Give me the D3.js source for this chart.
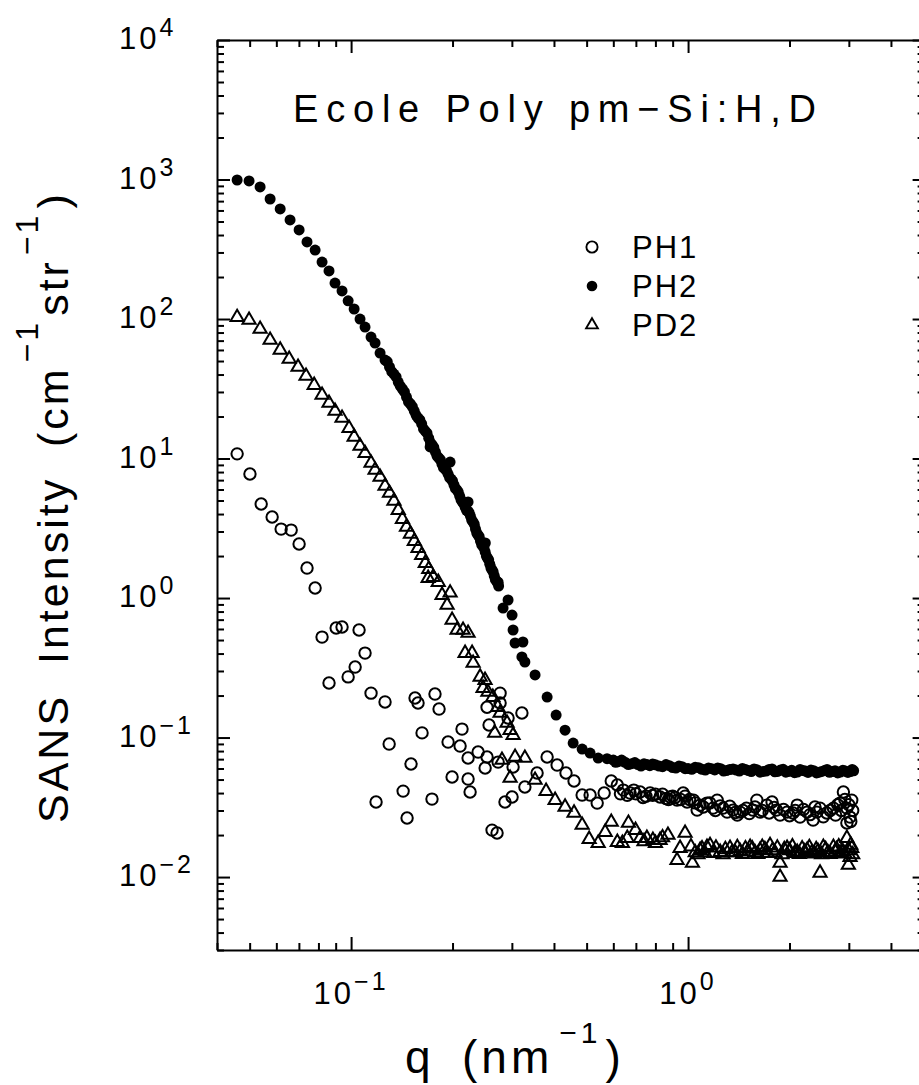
<!DOCTYPE html>
<html>
<head>
<meta charset="utf-8">
<script src="https://cdn.jsdelivr.net/npm/d3@7"></script>
<style>
    body { margin: 0; background: #fff; }
    svg { display: block; font-family: "Liberation Sans", Arial, sans-serif; }
</style>
</head>
<body>
<svg id="chart" width="919" height="1085"></svg>
<script>
// q (nm^-1), intensity (cm^-1 str^-1)
var ph1 = [
    [0.0459,10.8],[0.0501,7.74],[0.0541,4.72],[0.0583,3.81],[0.0620,3.12],[0.0664,3.07],[0.0701,2.44],
    [0.0740,1.64],[0.0782,1.18],[0.0820,0.525],[0.0903,0.610],[0.0940,0.620],[0.1056,0.590],[0.110,0.403],
    [0.1028,0.320],[0.098,0.272],[0.0860,0.246],[0.1146,0.208],[0.1261,0.180],[0.1548,0.192],[0.1580,0.177],
    [0.1774,0.205],[0.1824,0.160],[0.1624,0.108],[0.1297,0.0898],[0.1940,0.0928],[0.1506,0.0646],[0.1427,0.0413],
    [0.1186,0.0345],[0.1738,0.0362],[0.1466,0.0265],[0.1994,0.0521],[0.2134,0.115],[0.2106,0.0869],[0.2224,0.0713],
    [0.2382,0.0787],[0.2532,0.0725],[0.2499,0.0605],[0.2731,0.0667],[0.2224,0.0504],[0.2255,0.0407],[0.2768,0.208],
    [0.2768,0.177],[0.2923,0.138],[0.2567,0.123],[0.3213,0.150],[0.2532,0.165],[0.3025,0.0615],[0.3279,0.0442],
    [0.3564,0.0557],[0.2862,0.0345],[0.3004,0.0375],[0.2620,0.0217],[0.2711,0.0207],[0.3817,0.0725],[0.4087,0.0635],
    [0.4343,0.0557],[0.4588,0.0488],[0.4849,0.0387],[0.5120,0.0387],[0.5374,0.0339],[0.5636,0.0400],[0.5916,0.0488],
    [0.6167,0.0457],[0.63,0.0395],[0.6427,0.0420],[0.66,0.0385],[0.6729,0.0400],[0.69,0.0420],[0.70,0.0395],
    [0.7205,0.0407],[0.735,0.0372],[0.75,0.0380],[0.7714,0.0400],[0.785,0.0385],[0.80,0.0392],[0.8259,0.0375],
    [0.84,0.0392],[0.86,0.0365],[0.875,0.0360],[0.8843,0.0375],[0.90,0.0380],[0.915,0.0372],[0.9273,0.0356],
    [0.95,0.0360],[0.9670,0.0400],[0.98,0.0380],[0.9932,0.0345],[1.01,0.0360],[1.038,0.0356],[1.05,0.0340],
    [1.064,0.0302],[1.086,0.0328],[1.11,0.0318],[1.138,0.0339],[1.16,0.0340],[1.186,0.0312],[1.205,0.0300],
    [1.22,0.0356],[1.245,0.0324],[1.27,0.0312],[1.306,0.0292],[1.33,0.0322],[1.36,0.0302],[1.38,0.0290],
    [1.40,0.0278],[1.427,0.0292],[1.455,0.0300],[1.49,0.0312],[1.52,0.0285],[1.556,0.0302],[1.58,0.0318],
    [1.60,0.0356],[1.635,0.0292],[1.66,0.0300],[1.713,0.0328],[1.74,0.0288],[1.775,0.0345],[1.80,0.0315],
    [1.83,0.0302],[1.875,0.0278],[1.92,0.0305],[1.967,0.0292],[2.00,0.0275],[2.048,0.0288],[2.08,0.0300],
    [2.108,0.0328],[2.149,0.0269],[2.20,0.0305],[2.256,0.0292],[2.30,0.0280],[2.35,0.0256],[2.38,0.0318],
    [2.41,0.0292],[2.464,0.0312],[2.52,0.0270],[2.58,0.0288],[2.64,0.0300],[2.70,0.0312],[2.74,0.0278],
    [2.78,0.0330],[2.825,0.0339],[2.85,0.0300],[2.89,0.0407],[2.92,0.0360],[2.96,0.0312],[3.00,0.0330],
    [3.025,0.0269],[2.96,0.0244],[3.04,0.0250],[3.06,0.0356],[3.08,0.0300]
];

var ph2 = [
    [0.0459,992],[0.0498,976],[0.0537,884],[0.0575,725],[0.0616,615],[0.0659,513],[0.0701,435],[0.0740,357],
    [0.0782,312],[0.0820,256],[0.0860,221],[0.0896,181],[0.0940,159],[0.0980,135],[0.1021,118],[0.1063,100],
    [0.110,87.6],[0.1146,74.3],[0.1178,67.3],[0.1219,57.0],[0.1261,50.8],[0.128,49.5],[0.130,45.3],[0.132,42.0],
    [0.134,40.3],[0.136,38.5],[0.138,35.3],[0.140,33.0],[0.142,31.5],[0.144,30.0],[0.146,27.6],[0.148,25.5],
    [0.150,24.6],[0.152,23.5],[0.154,21.9],[0.156,20.4],[0.158,19.5],[0.160,18.9],[0.162,17.7],[0.164,16.3],
    [0.166,15.7],[0.168,15.2],[0.170,14.0],[0.172,13.0],[0.174,12.5],[0.176,12.0],[0.178,11.1],[0.180,10.4],
    [0.182,10.1],[0.184,9.8],[0.186,9.13],[0.188,8.6],[0.190,8.41],[0.192,8.2],[0.194,7.74],[0.196,7.3],
    [0.198,7.13],[0.200,6.9],[0.202,6.46],[0.204,6.1],[0.206,5.95],[0.208,5.75],[0.210,5.38],[0.212,5.05],
    [0.214,4.88],[0.216,4.75],[0.218,4.49],[0.220,4.25],[0.222,4.20],[0.224,4.10],[0.226,3.87],[0.228,3.62],
    [0.230,3.51],[0.232,3.38],[0.234,3.12],[0.236,2.92],[0.238,2.83],[0.240,2.75],[0.242,2.56],[0.244,2.42],
    [0.246,2.36],[0.248,2.28],[0.250,2.14],[0.252,2.00],[0.254,1.93],[0.256,1.88],[0.258,1.75],[0.260,1.64],
    [0.262,1.59],[0.264,1.54],[0.266,1.44],[0.268,1.36],[0.270,1.32],[0.272,1.29],[0.274,1.22],
    [0.1716,12.1],[0.1967,9.44],[0.2224,4.88],[0.2502,2.48],[0.2731,1.30],
    [0.2825,0.848],[0.2923,0.968],[0.3004,0.755],[0.3025,0.590],[0.3066,0.476],[0.3235,0.484],[0.3213,0.378],
    [0.3279,0.348],[0.3515,0.281],[0.3817,0.195],[0.4059,0.145],[0.4315,0.113],[0.456,0.0913],[0.4849,0.0827],
    [0.512,0.0774],[0.541,0.0713],[0.575,0.0705],
    [0.60,0.0690],[0.61,0.0665],[0.62,0.0672],[0.635,0.0690],[0.65,0.0665],[0.665,0.0640],[0.68,0.0650],
    [0.695,0.0662],[0.71,0.0640],[0.725,0.0625],[0.74,0.0648],[0.755,0.0640],[0.77,0.0628],[0.785,0.0645],
    [0.80,0.0638],[0.82,0.0625],[0.84,0.0618],[0.86,0.0640],[0.88,0.0628],[0.90,0.0610],[0.92,0.0605],
    [0.94,0.0625],[0.96,0.0618],[0.98,0.0598],[1.00,0.0600],[1.025,0.0592],[1.05,0.0612],[1.075,0.0608],
    [1.10,0.0592],[1.125,0.0585],[1.15,0.0605],[1.175,0.0598],[1.20,0.0586],[1.225,0.0605],[1.25,0.0598],
    [1.275,0.0575],[1.30,0.0580],[1.33,0.0590],[1.36,0.0595],[1.39,0.0585],[1.42,0.0575],[1.45,0.0600],
    [1.48,0.0590],[1.51,0.0580],[1.54,0.0570],[1.57,0.0595],[1.60,0.0588],[1.635,0.0565],[1.67,0.0572],
    [1.705,0.0575],[1.74,0.0590],[1.775,0.0595],[1.81,0.0568],[1.845,0.0572],[1.88,0.0585],[1.915,0.0592],
    [1.95,0.0565],[1.99,0.0572],[2.03,0.0582],[2.07,0.0560],[2.11,0.0566],[2.15,0.0590],[2.19,0.0580],
    [2.23,0.0575],[2.27,0.0562],[2.315,0.0585],[2.36,0.0578],[2.405,0.0558],[2.45,0.0565],[2.495,0.0572],
    [2.54,0.0580],[2.585,0.0590],[2.63,0.0563],[2.68,0.0570],[2.73,0.0578],[2.78,0.0558],[2.83,0.0566],
    [2.88,0.0582],[2.93,0.0575],[2.98,0.0562],[3.03,0.0570],[3.07,0.0590],[3.10,0.0578]
];

var pd2 = [
    [0.0459,103],[0.0498,98.4],[0.0537,84.8],[0.0575,70.7],[0.0616,60.0],[0.0655,51.7],[0.0696,45.3],
    [0.0735,39.0],[0.0777,33.6],[0.0820,28.5],[0.0860,25.0],[0.0896,21.9],[0.0940,19.5],[0.0986,16.5],
    [0.1021,14.3],[0.1063,12.3],[0.110,10.9],[0.1146,9.28],[0.1178,8.27],[0.1219,7.37],[0.1261,6.35],
    [0.130,5.66],[0.134,4.96],[0.138,4.27],[0.142,3.68],[0.146,3.23],[0.150,2.88],[0.154,2.56],[0.158,2.28],
    [0.162,2.03],[0.166,1.78],[0.170,1.61],
    [0.1693,1.39],[0.1752,1.41],[0.1814,1.30],[0.1862,1.05],[0.1967,1.09],[0.1927,0.891],[0.1994,0.696],
    [0.2063,0.590],[0.2149,0.590],[0.2224,0.561],[0.2179,0.403],[0.2286,0.403],[0.2302,0.342],[0.2415,0.272],
    [0.2497,0.258],[0.2464,0.226],[0.2547,0.212],[0.2634,0.195],[0.2725,0.165],[0.2768,0.150],[0.2903,0.127],
    [0.2964,0.113],[0.3025,0.104],[0.2668,0.108],[0.2804,0.0690],[0.3066,0.0725],[0.3279,0.0713],[0.2964,0.0513],
    [0.3515,0.0496],[0.3790,0.0413],[0.4031,0.0356],[0.4315,0.0318],[0.4588,0.0288],[0.4849,0.0236],
    [0.5087,0.0187],[0.5410,0.0175],[0.5675,0.0210],[0.5916,0.0248],[0.6167,0.0178],[0.6383,0.0175],
    [0.6654,0.0244],[0.66,0.0190],[0.6984,0.0217],[0.7205,0.0190],[0.74,0.0180],[0.7547,0.0190],[0.7863,0.0184],
    [0.80,0.0175],[0.8259,0.0184],[0.84,0.0192],[0.8716,0.0200],[0.9273,0.0132],
    [0.9469,0.0161],[0.9797,0.0207],[1.02,0.0165],[1.030,0.0126],[1.05,0.0150],[1.07,0.0145],[1.086,0.0156],
    [1.10,0.0160],[1.12,0.0150],[1.138,0.0164],[1.162,0.0169],[1.19,0.0148],[1.21,0.0162],[1.245,0.0151],
    [1.27,0.0145],[1.29,0.0158],[1.332,0.0161],[1.35,0.0150],[1.38,0.0150],[1.40,0.0163],[1.427,0.0153],
    [1.45,0.0146],[1.48,0.0160],[1.51,0.0152],[1.528,0.0164],[1.55,0.0160],[1.58,0.0150],[1.61,0.0146],
    [1.635,0.0156],[1.66,0.0164],[1.69,0.0158],[1.72,0.0148],[1.751,0.0169],[1.78,0.0155],[1.81,0.0150],
    [1.84,0.0162],[1.875,0.0126],[1.875,0.0100],[1.90,0.0145],[1.93,0.0158],[1.967,0.0161],[2.00,0.0155],
    [2.04,0.0165],[2.07,0.0148],[2.108,0.0151],[2.14,0.0146],[2.18,0.0160],[2.22,0.0152],[2.256,0.0156],
    [2.29,0.0163],[2.33,0.0150],[2.37,0.0147],[2.40,0.0158],[2.43,0.0153],[2.464,0.0107],[2.49,0.0145],
    [2.52,0.0164],[2.56,0.0158],[2.60,0.0150],[2.64,0.0146],[2.70,0.0164],[2.73,0.0152],[2.76,0.0158],
    [2.80,0.0165],[2.825,0.0149],[2.88,0.0152],[2.92,0.0147],[2.96,0.0190],[2.99,0.0122],[3.00,0.0155],
    [3.025,0.0139],[3.04,0.0170],[3.06,0.0161],[3.08,0.0145]
];

var legendNames = ["PH1", "PH2", "PD2"];
var yDecades = [-2, -1, 0, 1, 2, 3, 4];
var xDecades = [-1, 0];
var titleText = "Ecole Poly pm\u2212Si:H,D";

var svg = d3.select("#chart");
var x = d3.scaleLog().domain([0.04, 5]).range([217, 923.6]);
var y = d3.scaleLog().domain([0.003, 1e4]).range([950, 40]);

function isMajor(v) {
    var l = Math.log10(v);
    return Math.abs(l - Math.round(l)) < 1e-6;
}

function sup(d) {
    return d < 0 ? "\u2212" + (-d) : "" + d;
}

function drawTicks(axis, pos, values, len, keepDomain) {
    var g = svg.append("g")
        .attr("transform", pos)
        .call(axis.tickValues(values).tickSize(len).tickSizeOuter(0).tickFormat(""));
    if (!keepDomain) g.select(".domain").remove();
    g.selectAll("line, path").attr("stroke", "#000").attr("stroke-width", 2).attr("fill", "none");
    return g;
}

function drawAxes() {
    var xt = x.ticks(), yt = y.ticks();
    var xMaj = xt.filter(isMajor), xMin = xt.filter(function(v) { return !isMajor(v); });
    var yMaj = yt.filter(isMajor), yMin = yt.filter(function(v) { return !isMajor(v); });

    // bottom and top, ticks pointing in
    drawTicks(d3.axisBottom(x), "translate(0,950)", xMaj, -13, true);
    drawTicks(d3.axisBottom(x), "translate(0,950)", xMin, -7, false);
    drawTicks(d3.axisTop(x), "translate(0,40)", xMaj, -13, true);
    drawTicks(d3.axisTop(x), "translate(0,40)", xMin, -7, false);
    // left and right
    drawTicks(d3.axisLeft(y), "translate(217,0)", yMaj, -13, true);
    drawTicks(d3.axisLeft(y), "translate(217,0)", yMin, -7, false);
    drawTicks(d3.axisRight(y), "translate(923.6,0)", yMaj, -11, true);
    drawTicks(d3.axisRight(y), "translate(923.6,0)", yMin, -6, false);

    // tick labels 10^n
    var yl = svg.append("g").selectAll("text")
        .data(yDecades)
        .enter().append("text")
        .attr("x", 119)
        .attr("y", function(d) { return y(Math.pow(10, d)) + 9; })
        .style("font-size", "31px")
        .style("letter-spacing", "3px");
    yl.append("tspan").text("10");
    yl.append("tspan").attr("dx", 0).attr("dy", -13).style("font-size", "25px").text(function(d) { return sup(d); });

    var xl = svg.append("g").selectAll("text")
        .data(xDecades)
        .enter().append("text")
        .attr("x", function(d) { return x(Math.pow(10, d)); })
        .attr("y", 1004)
        .attr("text-anchor", "middle")
        .style("font-size", "31px")
        .style("letter-spacing", "3px");
    xl.append("tspan").text("10");
    xl.append("tspan").attr("dx", 0).attr("dy", -14).style("font-size", "25px").text(function(d) { return sup(d); });
}

function drawSeries() {
    var g = svg.append("g");
    g.selectAll("circle.ph1")
        .data(ph1)
        .enter().append("circle")
        .attr("class", "ph1")
        .attr("cx", function(d) { return x(d[0]); })
        .attr("cy", function(d) { return y(d[1]); })
        .attr("r", 5.7)
        .attr("fill", "none")
        .attr("stroke", "#000")
        .attr("stroke-width", 2);

    var tri = d3.symbol().type(d3.symbolTriangle).size(75);
    g.selectAll("path.pd2")
        .data(pd2)
        .enter().append("path")
        .attr("class", "pd2")
        .attr("d", tri)
        .attr("transform", function(d) { return "translate(" + x(d[0]) + "," + y(d[1]) + ")"; })
        .attr("fill", "none")
        .attr("stroke", "#000")
        .attr("stroke-width", 2);

    g.selectAll("circle.ph2")
        .data(ph2)
        .enter().append("circle")
        .attr("class", "ph2")
        .attr("cx", function(d) { return x(d[0]); })
        .attr("cy", function(d) { return y(d[1]); })
        .attr("r", 5.5)
        .attr("fill", "#000");
}

function drawText() {
    svg.append("text")
        .attr("x", 293)
        .attr("y", 122)
        .style("font-size", "38px")
        .style("letter-spacing", "7.8px")
        .text(titleText);

    // legend
    var leg = svg.append("g").selectAll("g")
        .data(legendNames)
        .enter().append("g")
        .attr("transform", function(d, i) { return "translate(592," + (247 + i * 39) + ")"; });
    leg.append("text")
        .attr("x", 40)
        .attr("y", 11)
        .style("font-size", "31px")
        .style("letter-spacing", "2px")
        .text(function(d) { return d; });
    leg.filter(function(d, i) { return i == 0; }).append("circle")
        .attr("r", 5.6).attr("fill", "none").attr("stroke", "#000").attr("stroke-width", 1.9);
    leg.filter(function(d, i) { return i == 1; }).append("circle")
        .attr("r", 5.3).attr("fill", "#000");
    leg.filter(function(d, i) { return i == 2; }).append("path")
        .attr("d", d3.symbol().type(d3.symbolTriangle).size(60))
        .attr("fill", "none").attr("stroke", "#000").attr("stroke-width", 1.9);

    // x title
    var xt = svg.append("text")
        .attr("y", 1073)
        .style("font-size", "46px")
        .style("letter-spacing", "4px");
    xt.append("tspan").attr("x", 405).text("q");
    xt.append("tspan").attr("x", 462).text("(nm");
    xt.append("tspan").attr("dx", 6).attr("dy", -30).style("font-size", "30px").text("\u22121");
    xt.append("tspan").attr("dx", 4).attr("dy", 30).text(")");

    // y title, rotated
    var yt = svg.append("text")
        .attr("transform", "translate(68,0) rotate(-90)")
        .attr("x", -823)
        .attr("y", 0)
        .attr("xml:space", "preserve")
        .style("font-size", "43px")
        .style("letter-spacing", "3px");
    yt.append("tspan").text("SANS  Intensity  (cm");
    yt.append("tspan").attr("dx", 4).attr("dy", -30).style("font-size", "32px").text("\u22121");
    yt.append("tspan").attr("dx", 4).attr("dy", 30).text("str");
    yt.append("tspan").attr("dx", 4).attr("dy", -30).style("font-size", "32px").text("\u22121");
    yt.append("tspan").attr("dx", 4).attr("dy", 30).text(")");
}

drawSeries();
drawAxes();
drawText();
</script>
</body>
</html>
